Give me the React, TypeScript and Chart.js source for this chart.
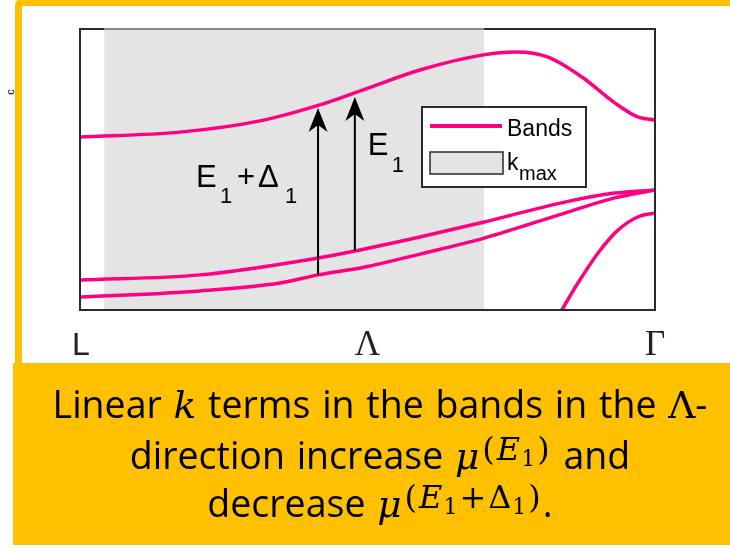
import React, { useEffect, useRef } from "react";
import { Chart, registerables } from "chart.js";

Chart.register(...registerables);

// Band energies (arbitrary units) along the L – Λ – Γ path, k normalised to 0..1
const K_UPPER = [0, 0.174, 0.313, 0.417, 0.496, 0.591, 0.699, 0.757, 0.814, 0.873, 0.93, 0.97, 1];
const E_UPPER = [61.6, 63.3, 67.3, 73.0, 78.6, 85.4, 90.7, 91.8, 90.0, 82.9, 73.7, 68.7, 67.6];
const K_MID = [0, 0.209, 0.414, 0.478, 0.591, 0.703, 0.843, 0.93, 1];
const E_MID = [10.7, 12.5, 18.5, 21.0, 26.0, 31.3, 38.4, 41.6, 42.7];
const K_LOW = [0, 0.209, 0.348, 0.414, 0.496, 0.591, 0.703, 0.843, 0.93, 1];
const E_LOW = [4.6, 6.8, 9.6, 12.5, 15.3, 19.9, 25.6, 34.5, 39.9, 42.7];
const K_SPLIT = [0.826, 0.838, 0.866, 0.901, 0.936, 0.97, 1];
const E_SPLIT = [-4.3, 0, 9.6, 20.3, 28.5, 33.1, 34.5];

// Shaded k-range up to k_max
const KMAX_RANGE = [0.042, 0.703];

// Transition arrows: k position, start energy, end energy
const ARROW_K = [0.414, 0.478];
const ARROW_FROM = [12.5, 21.0];
const ARROW_TO = [71.9, 75.8];

const TICK_K = [0, 0.5, 1];
const TICK_LABELS = ["L", "Λ", "Γ"];

const E_MIN = 0;
const E_MAX = 100;

const BAND_COLOR = "#ff0080";
const SHADE_COLOR = "#e4e4e4";

const pts = (ks: number[], es: number[]) => ks.map((k, i) => ({ x: k, y: es[i] }));

const bandStyle = {
  borderColor: BAND_COLOR,
  borderWidth: 3.5,
  pointRadius: 0,
  fill: false,
  cubicInterpolationMode: "monotone" as const,
  clip: 0,
  order: 1,
};

function drawArrow(ctx: CanvasRenderingContext2D, x: number, y0: number, y1: number) {
  ctx.strokeStyle = "#000";
  ctx.fillStyle = "#000";
  ctx.lineWidth = 2;
  ctx.beginPath();
  ctx.moveTo(x, y0);
  ctx.lineTo(x, y1 + 14);
  ctx.stroke();
  ctx.beginPath();
  ctx.moveTo(x, y1);
  ctx.lineTo(x + 9.5, y1 + 24);
  ctx.lineTo(x, y1 + 17);
  ctx.lineTo(x - 9.5, y1 + 24);
  ctx.closePath();
  ctx.fill();
}

const overlay = {
  id: "overlay",
  afterDatasetsDraw(chart: any) {
    const { ctx, chartArea: a, scales } = chart;
    const xs = scales.x;
    const ys = scales.y;
    ctx.save();

    // plot frame
    ctx.strokeStyle = "#2a2a2a";
    ctx.lineWidth = 2;
    ctx.strokeRect(a.left, a.top, a.right - a.left, a.bottom - a.top);
    ctx.strokeStyle = "#8a8a8a";
    ctx.beginPath();
    ctx.moveTo(xs.getPixelForValue(KMAX_RANGE[0]), a.top);
    ctx.lineTo(xs.getPixelForValue(KMAX_RANGE[1]), a.top);
    ctx.stroke();

    // arrows
    const ax = ARROW_K.map((k) => xs.getPixelForValue(k));
    const ay0 = ARROW_FROM.map((e) => ys.getPixelForValue(e));
    const ay1 = ARROW_TO.map((e) => ys.getPixelForValue(e));
    for (let i = 0; i < ARROW_K.length; i++) drawArrow(ctx, ax[i], ay0[i], ay1[i]);

    // arrow labels
    ctx.fillStyle = "#000";
    ctx.textAlign = "left";
    ctx.textBaseline = "alphabetic";
    const big = '31px "Liberation Sans", Arial, sans-serif';
    const small = '22px "Liberation Sans", Arial, sans-serif';
    const bx = ax[0];
    const bb = ay1[0] + 79;
    ctx.font = big;
    ctx.fillText("E", bx - 122, bb);
    ctx.font = small;
    ctx.fillText("1", bx - 98, bb + 16);
    ctx.font = big;
    ctx.fillText("+", bx - 81, bb);
    ctx.fillText("Δ", bx - 60, bb);
    ctx.font = small;
    ctx.fillText("1", bx - 33, bb + 16);

    const cx = ax[1];
    const cb = ay1[1] + 58;
    ctx.font = big;
    ctx.fillText("E", cx + 13, cb);
    ctx.font = small;
    ctx.fillText("1", cx + 37, cb + 17);

    // legend
    const lx = a.left + 342;
    const ly = a.top + 78;
    ctx.fillStyle = "#fff";
    ctx.fillRect(lx, ly, 164, 80);
    ctx.strokeStyle = "#2a2a2a";
    ctx.lineWidth = 2;
    ctx.strokeRect(lx, ly, 164, 80);
    ctx.strokeStyle = BAND_COLOR;
    ctx.lineWidth = 4;
    ctx.beginPath();
    ctx.moveTo(lx + 8, ly + 19);
    ctx.lineTo(lx + 80, ly + 19);
    ctx.stroke();
    ctx.fillStyle = "#000";
    ctx.font = '23px "Liberation Sans", Arial, sans-serif';
    ctx.fillText("Bands", lx + 85, ly + 29);
    ctx.fillStyle = SHADE_COLOR;
    ctx.fillRect(lx + 8, ly + 45, 73, 22);
    ctx.strokeStyle = "#2a2a2a";
    ctx.lineWidth = 1.5;
    ctx.strokeRect(lx + 8, ly + 45, 73, 22);
    ctx.fillStyle = "#000";
    ctx.font = '23px "Liberation Sans", Arial, sans-serif';
    ctx.fillText("k", lx + 85, ly + 63);
    ctx.font = '20px "Liberation Sans", Arial, sans-serif';
    ctx.fillText("max", lx + 97, ly + 73);

    // k-path labels
    ctx.fillStyle = "#222";
    ctx.textAlign = "center";
    TICK_K.forEach((k, i) => {
      const px = xs.getPixelForValue(k);
      ctx.font =
        i === 0
          ? '32px "Liberation Sans", Arial, sans-serif'
          : '35px "Liberation Serif", "Times New Roman", serif';
      ctx.fillText(TICK_LABELS[i], px + (i === 0 ? 1 : 0), a.bottom + 45);
    });

    ctx.restore();
  },
};

const mathFont = '"DejaVu Serif", "Liberation Serif", serif';

export default function App() {
  const canvasRef = useRef<HTMLCanvasElement>(null);

  useEffect(() => {
    const canvas = canvasRef.current;
    if (!canvas) return;
    const chart = new Chart(canvas, {
      type: "line",
      data: {
        datasets: [
          {
            label: "kmax",
            data: [
              { x: KMAX_RANGE[0], y: E_MAX },
              { x: KMAX_RANGE[1], y: E_MAX },
            ],
            borderWidth: 0,
            pointRadius: 0,
            backgroundColor: SHADE_COLOR,
            fill: "start",
            order: 10,
          },
          { label: "Bands", data: pts(K_UPPER, E_UPPER), ...bandStyle },
          { label: "Bands", data: pts(K_MID, E_MID), ...bandStyle },
          { label: "Bands", data: pts(K_LOW, E_LOW), ...bandStyle },
          { label: "Bands", data: pts(K_SPLIT, E_SPLIT), ...bandStyle },
        ],
      },
      options: {
        animation: false,
        responsive: false,
        devicePixelRatio: 1,
        layout: { padding: { left: 80, right: 75, top: 29, bottom: 60 } },
        plugins: { legend: { display: false }, tooltip: { enabled: false } },
        scales: {
          x: { type: "linear", min: 0, max: 1, display: false },
          y: { type: "linear", min: E_MIN, max: E_MAX, display: false },
        },
      },
      plugins: [overlay],
    });
    return () => chart.destroy();
  }, []);

  const line: React.CSSProperties = {
    position: "absolute",
    left: 0,
    width: 760,
    textAlign: "center",
    fontFamily: '"Open Sans", sans-serif',
    fontSize: 37.5,
    lineHeight: "38px",
    wordSpacing: 2,
    color: "#000",
    whiteSpace: "nowrap",
  };
  const mi: React.CSSProperties = { fontFamily: mathFont, fontStyle: "italic" };
  const sup: React.CSSProperties = {
    fontFamily: mathFont,
    fontSize: 32,
    letterSpacing: 2,
    position: "relative",
    top: -9,
    marginLeft: 3,
  };
  const sub: React.CSSProperties = {
    fontSize: 22,
    position: "relative",
    top: 6,
    marginLeft: -1,
  };

  return (
    <div
      style={{
        position: "absolute",
        left: 0,
        top: 0,
        width: 730,
        height: 548,
        overflow: "hidden",
        background: "#fff",
      }}
    >
      <div
        style={{
          position: "absolute",
          left: 15,
          top: -1,
          width: 740,
          height: 371,
          boxSizing: "border-box",
          border: "7px solid #FFC000",
          borderRadius: 6,
          background: "#fff",
        }}
      />
      <span
        style={{
          position: "absolute",
          left: 7,
          top: 86,
          fontFamily: '"Liberation Sans", sans-serif',
          fontSize: 11,
          transform: "rotate(-90deg)",
          color: "#000",
        }}
      >
        c
      </span>
      <canvas
        ref={canvasRef}
        width={730}
        height={370}
        style={{ position: "absolute", left: 0, top: 0, display: "block" }}
      />
      <div
        style={{
          position: "absolute",
          left: 13,
          top: 363,
          width: 730,
          height: 182,
          background: "#FFC000",
        }}
      />
      <div style={{ ...line, top: 385 }}>
        Linear <span style={mi}>k</span> terms in the bands in the{" "}
        <span style={{ fontFamily: mathFont }}>Λ</span>-
      </div>
      <div style={{ ...line, top: 436 }}>
        direction increase <span style={mi}>μ</span>
        <span style={sup}>
          (<i>E</i>
          <span style={sub}>1</span>)
        </span>{" "}
        and
      </div>
      <div style={{ ...line, top: 484 }}>
        decrease <span style={mi}>μ</span>
        <span style={sup}>
          (<i>E</i>
          <span style={sub}>1</span>+Δ<span style={sub}>1</span>)
        </span>
        .
      </div>
    </div>
  );
}
